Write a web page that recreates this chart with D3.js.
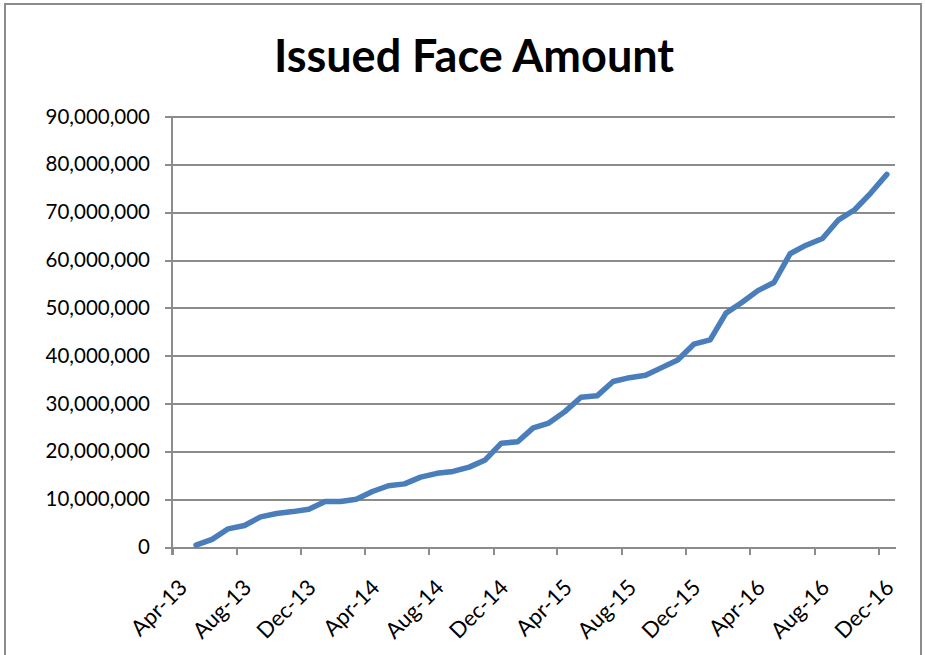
<!DOCTYPE html>
<html>
<head>
  <meta charset="utf-8">
  <style>
    body { margin: 0; background: #fff; }
    text { font-family: Lato, "Open Sans", sans-serif; fill: #000; }
    .grid line { stroke: #8c8c8c; stroke-width: 2; shape-rendering: crispEdges; }
    .grid path { stroke-width: 0; }
    .axis path, .axis line { stroke: #8c8c8c; stroke-width: 2; shape-rendering: crispEdges; }
    .axis text { font-size: 20.5px; }
    .xaxis text { font-size: 22px; }
  </style>
</head>
<body>
  <script src="https://d3js.org/d3.v7.min.js"></script>
  <script>
    // monthly totals, May-13 .. Dec-16
    var months = ["May-13","Jun-13","Jul-13","Aug-13","Sep-13","Oct-13","Nov-13","Dec-13",
                  "Jan-14","Feb-14","Mar-14","Apr-14","May-14","Jun-14","Jul-14","Aug-14",
                  "Sep-14","Oct-14","Nov-14","Dec-14","Jan-15","Feb-15","Mar-15","Apr-15",
                  "May-15","Jun-15","Jul-15","Aug-15","Sep-15","Oct-15","Nov-15","Dec-15",
                  "Jan-16","Feb-16","Mar-16","Apr-16","May-16","Jun-16","Jul-16","Aug-16",
                  "Sep-16","Oct-16","Nov-16","Dec-16"];
    var amounts = [400000, 1600000, 3800000, 4500000, 6300000, 7000000, 7400000, 7900000,
                   9500000, 9500000, 10000000, 11600000, 12800000, 13200000, 14600000, 15400000,
                   15800000, 16700000, 18200000, 21700000, 22000000, 24900000, 25900000, 28300000,
                   31300000, 31600000, 34600000, 35400000, 35900000, 37500000, 39100000, 42400000,
                   43300000, 48900000, 51100000, 53600000, 55300000, 61300000, 63100000, 64500000,
                   68400000, 70500000, 74000000, 77900000];
    var xTicks = ["Apr-13","Aug-13","Dec-13","Apr-14","Aug-14","Dec-14",
                  "Apr-15","Aug-15","Dec-15","Apr-16","Aug-16","Dec-16"];
    var yTicks = [0, 10000000, 20000000, 30000000, 40000000, 50000000,
                  60000000, 70000000, 80000000, 90000000];

    var W = 925, H = 655;
    var margin = {top: 116.5, right: 30, bottom: 108, left: 172},
        width = 895 - margin.left,
        height = 547 - margin.top;

    var parse = d3.timeParse("%b-%y");

    var svg = d3.select("body").append("svg")
        .attr("width", W)
        .attr("height", H);

    // outer chart frame
    svg.append("rect")
        .attr("x", 5).attr("y", 4)
        .attr("width", 916).attr("height", 700)
        .attr("fill", "none")
        .attr("stroke", "#8c8c8c")
        .attr("stroke-width", 2);

    svg.append("text")
        .attr("x", 474)
        .attr("y", 72)
        .attr("text-anchor", "middle")
        .style("font-size", "45px")
        .style("font-weight", "bold")
        .text("Issued Face Amount");

    var x = d3.scaleTime()
        .domain([new Date(2013, 3, 1), new Date(2017, 0, 1)])
        .range([0, width]);
    var y = d3.scaleLinear()
        .domain([0, 90000000])
        .range([height, 0]);

    var g = svg.append("g")
        .attr("transform", "translate(" + margin.left + "," + margin.top + ")");

    g.append("g")
        .attr("class", "grid")
        .call(d3.axisLeft(y).tickValues(yTicks).tickSize(-width).tickFormat(""));

    g.append("g")
        .attr("class", "axis")
        .call(d3.axisLeft(y)
            .tickValues(yTicks)
            .tickSize(7)
            .tickPadding(15)
            .tickFormat(d3.format(",")))
      .select(".domain").attr("d", "M0,0V" + (height + 8));

    var xAxis = g.append("g")
        .attr("class", "axis xaxis")
        .attr("transform", "translate(0," + height + ")")
        .call(d3.axisBottom(x)
            .tickValues(xTicks.map(parse))
            .tickSize(8)
            .tickSizeOuter(0)
            .tickFormat(d3.timeFormat("%b-%y")));

    xAxis.selectAll("text")
        .attr("text-anchor", "end")
        .attr("dy", null)
        .attr("y", null)
        .attr("transform", "translate(16,42) rotate(-45)");

    // points sit in the middle of their month
    var pts = months.map(function(m, i) {
      var d = parse(m);
      var mid = new Date((+d + +d3.timeMonth.offset(d, 1)) / 2);
      return {date: mid, value: amounts[i]};
    });

    g.append("path")
        .datum(pts)
        .attr("fill", "none")
        .attr("stroke", "#4a7ebb")
        .attr("stroke-width", 5.5)
        .attr("stroke-linejoin", "round")
        .attr("stroke-linecap", "round")
        .attr("d", d3.line()
            .x(function(d) { return x(d.date); })
            .y(function(d) { return y(d.value); }));
  </script>
</body>
</html>
